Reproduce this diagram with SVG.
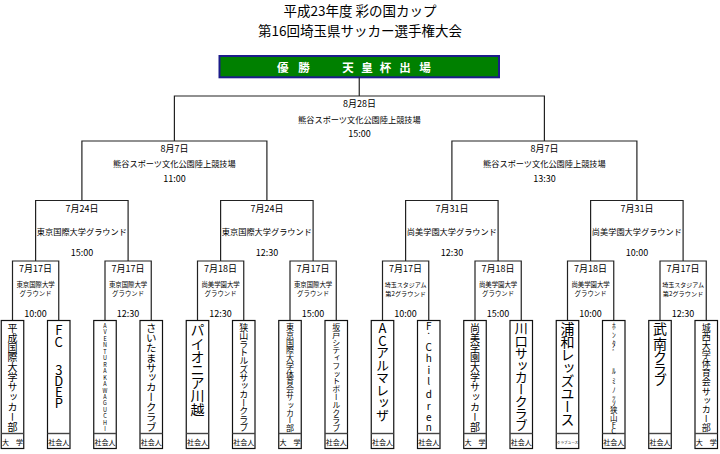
<svg xmlns="http://www.w3.org/2000/svg" width="720" height="454" viewBox="0 0 720 454">
<style>
.ln{fill:none;stroke:#222;stroke-width:1.2}
.tb{fill:#fff;stroke:#111;stroke-width:1.2}
.sep{stroke:#444;stroke-width:1.4}
.t{font-family:"Noto Sans CJK JP","Noto Sans",sans-serif;fill:#000;text-anchor:middle;dominant-baseline:central}
.v{font-family:"Noto Sans CJK JP","Noto Sans",sans-serif;fill:#000;writing-mode:vertical-rl;text-orientation:upright}
.d{font-size:9px}
.p{font-size:8.2px}
.s{font-size:6.4px}
.f{font-size:7px}
</style>
<rect width="720" height="454" fill="#fff"/>
<g id="title">
<text class="t" x="360" y="10.2" font-size="13.5">平成23年度 彩の国カップ</text>
<text class="t" x="360" y="29.8" font-size="13.5">第16回埼玉県サッカー選手権大会</text>
</g>
<g id="winner">
<rect x="219.5" y="56" width="279.5" height="21.3" fill="#008000" stroke="#1c1c8a" stroke-width="2"/>
<text class="t" y="66.7" font-size="11.5" font-weight="bold" style="fill:#fff" x="282.7 293 304 318 333 348 357.5 367 376 385.5 395 405 415 425">優 勝　　天 皇 杯 出 場</text>
</g>
<g id="connectors">
<path class="ln" d="M359.25 77.3V96"/>
<path class="ln" d="M174.4 141V96H544.4V141"/>
<path class="ln" d="M81.9 200.5V141H266.9V200.5"/>
<path class="ln" d="M451.9 200.5V141H636.9V200.5"/>
<path class="ln" d="M35.6 261V200.5H128.1V261"/>
<path class="ln" d="M220.6 261V200.5H313.1V261"/>
<path class="ln" d="M405.6 261V200.5H498.1V261"/>
<path class="ln" d="M590.6 261V200.5H683.1V261"/>
<path class="ln" d="M12.5 320.5V261H58.75V320.5"/>
<path class="ln" d="M105 320.5V261H151.25V320.5"/>
<path class="ln" d="M197.5 320.5V261H243.75V320.5"/>
<path class="ln" d="M290 320.5V261H336.25V320.5"/>
<path class="ln" d="M382.5 320.5V261H428.75V320.5"/>
<path class="ln" d="M475 320.5V261H521.25V320.5"/>
<path class="ln" d="M567.5 320.5V261H613.75V320.5"/>
<path class="ln" d="M660 320.5V261H706.25V320.5"/>
</g>
<g id="final">
<text class="t d" x="359.4" y="103.3">8月28日</text>
<text class="t p" x="359.4" y="118.5">熊谷スポーツ文化公園陸上競技場</text>
<text class="t d" x="359.4" y="133.5">15:00</text>
</g>
<g id="semi1">
<text class="t d" x="174.4" y="148.3">8月7日</text>
<text class="t p" x="174.4" y="163.3">熊谷スポーツ文化公園陸上競技場</text>
<text class="t d" x="174.4" y="178.3">11:00</text>
</g>
<g id="semi2">
<text class="t d" x="544.4" y="148.3">8月7日</text>
<text class="t p" x="544.4" y="163.3">熊谷スポーツ文化公園陸上競技場</text>
<text class="t d" x="544.4" y="178.3">13:30</text>
</g>
<g id="qf1">
<text class="t d" x="81.9" y="208">7月24日</text>
<text class="t p" x="81.9" y="230.5">東京国際大学グラウンド</text>
<text class="t d" x="81.9" y="252.3">15:00</text>
</g>
<g id="qf2">
<text class="t d" x="266.9" y="208">7月24日</text>
<text class="t p" x="266.9" y="230.5">東京国際大学グラウンド</text>
<text class="t d" x="266.9" y="252.3">12:30</text>
</g>
<g id="qf3">
<text class="t d" x="451.9" y="208">7月31日</text>
<text class="t p" x="451.9" y="230.5">尚美学園大学グラウンド</text>
<text class="t d" x="451.9" y="252.3">12:30</text>
</g>
<g id="qf4">
<text class="t d" x="636.9" y="208">7月31日</text>
<text class="t p" x="636.9" y="230.5">尚美学園大学グラウンド</text>
<text class="t d" x="636.9" y="252.3">10:00</text>
</g>
<g id="r1">
<text class="t d" x="35.6" y="268">7月17日</text>
<text class="t s" x="35.6" y="284.5">東京国際大学</text>
<text class="t s" x="35.6" y="293.5">グラウンド</text>
<text class="t d" x="35.6" y="313">10:00</text>
</g>
<g id="r2">
<text class="t d" x="128.1" y="268">7月17日</text>
<text class="t s" x="128.1" y="284.5">東京国際大学</text>
<text class="t s" x="128.1" y="293.5">グラウンド</text>
<text class="t d" x="128.1" y="313">12:30</text>
</g>
<g id="r3">
<text class="t d" x="220.6" y="268">7月18日</text>
<text class="t s" x="220.6" y="284.5">尚美学園大学</text>
<text class="t s" x="220.6" y="293.5">グラウンド</text>
<text class="t d" x="220.6" y="313">12:30</text>
</g>
<g id="r4">
<text class="t d" x="313.1" y="268">7月17日</text>
<text class="t s" x="313.1" y="284.5">東京国際大学</text>
<text class="t s" x="313.1" y="293.5">グラウンド</text>
<text class="t d" x="313.1" y="313">15:00</text>
</g>
<g id="r5">
<text class="t d" x="405.6" y="268">7月17日</text>
<text class="t" x="405.6" y="284.5" font-size="6">埼玉スタジアム</text>
<text class="t" x="405.6" y="293.5" font-size="6.2">第2グラウンド</text>
<text class="t d" x="405.6" y="313">10:00</text>
</g>
<g id="r6">
<text class="t d" x="498.1" y="268">7月18日</text>
<text class="t s" x="498.1" y="284.5">尚美学園大学</text>
<text class="t s" x="498.1" y="293.5">グラウンド</text>
<text class="t d" x="498.1" y="313">15:00</text>
</g>
<g id="r7">
<text class="t d" x="590.6" y="268">7月18日</text>
<text class="t s" x="590.6" y="284.5">尚美学園大学</text>
<text class="t s" x="590.6" y="293.5">グラウンド</text>
<text class="t d" x="590.6" y="313">10:00</text>
</g>
<g id="r8">
<text class="t d" x="683.1" y="268">7月17日</text>
<text class="t" x="683.1" y="284.5" font-size="6">埼玉スタジアム</text>
<text class="t" x="683.1" y="293.5" font-size="6.2">第2グラウンド</text>
<text class="t d" x="683.1" y="313">12:30</text>
</g>
<g id="team1">
<rect class="tb" x="1.25" y="320.5" width="22.5" height="128"/><line class="sep" x1="1.25" y1="433.5" x2="23.75" y2="433.5"/>
<text class="v" x="12.5" y="323 332.9 342.8 352.7 362.6 372.5 382.4 392.3 402.2 412.1 422" font-size="10">平成国際大学サッカー部</text>
<text class="t f" x="12.5" y="442">大　学</text>
</g>
<g id="team2">
<rect class="tb" x="47.5" y="320.5" width="22.5" height="128"/><line class="sep" x1="47.5" y1="433.5" x2="70" y2="433.5"/>
<text class="v" x="58.75" y="323.5 335.5 349.5 363.5 375 386 397" font-size="13">FC 3DEP</text>
<text class="t f" x="58.75" y="442">社会人</text>
</g>
<g id="team3">
<rect class="tb" x="93.75" y="320.5" width="22.5" height="128"/><line class="sep" x1="93.75" y1="433.5" x2="116.25" y2="433.5"/>
<text class="v" x="105" y="323 329.5 335.9 342.4 348.9 355.3 361.8 368.3 374.8 381.2 387.7 394.2 400.6 407.1 413.6 420 426.5" font-size="5.5">AVENTURAKAWAGUCHI</text>
<text class="t f" x="105" y="442">社会人</text>
</g>
<g id="team4">
<rect class="tb" x="140" y="320.5" width="22.5" height="128"/><line class="sep" x1="140" y1="433.5" x2="162.5" y2="433.5"/>
<text class="v" x="151.25" y="323 332.85 342.7 352.55 362.4 372.25 382.1 391.95 401.8 411.65 421.5" font-size="10.5">さいたまサッカークラブ</text>
<text class="t f" x="151.25" y="442">社会人</text>
</g>
<g id="team5">
<rect class="tb" x="186.25" y="320.5" width="22.5" height="128"/><line class="sep" x1="186.25" y1="433.5" x2="208.75" y2="433.5"/>
<text class="v" x="197.5" y="323 336.2 349.4 362.6 375.8 389 402.2" font-size="14">パイオニア川越</text>
<text class="t f" x="197.5" y="442">社会人</text>
</g>
<g id="team6">
<rect class="tb" x="232.5" y="320.5" width="22.5" height="128"/><line class="sep" x1="232.5" y1="433.5" x2="255" y2="433.5"/>
<text class="v" x="243.75" y="323 331.3 339.7 348 356.3 364.7 373 381.3 389.7 398 406.3 414.7 423" font-size="9">狭山ラトルズサッカークラブ</text>
<text class="t f" x="243.75" y="442">社会人</text>
</g>
<g id="team7">
<rect class="tb" x="278.75" y="320.5" width="22.5" height="128"/><line class="sep" x1="278.75" y1="433.5" x2="301.25" y2="433.5"/>
<text class="v" x="290" y="323 330.8 338.5 346.3 354.1 361.8 369.6 377.4 385.2 392.9 400.7 408.5 416.2 424" font-size="8">東京国際大学体育会サッカー部</text>
<text class="t f" x="290" y="442">大　学</text>
</g>
<g id="team8">
<rect class="tb" x="325" y="320.5" width="22.5" height="128"/><line class="sep" x1="325" y1="433.5" x2="347.5" y2="433.5"/>
<text class="v" x="336.25" y="323 330.8 338.5 346.3 354.1 361.8 369.6 377.4 385.2 392.9 400.7 408.5 416.2 424" font-size="8">坂戸シティフットボールクラブ</text>
<text class="t f" x="336.25" y="442">社会人</text>
</g>
<g id="team9">
<rect class="tb" x="371.25" y="320.5" width="22.5" height="128"/><line class="sep" x1="371.25" y1="433.5" x2="393.75" y2="433.5"/>
<text class="v" x="382.5" y="322 334.5 346 358.5 371 383.5 396 408.5" font-size="13">ACアルマレッザ</text>
<text class="t f" x="382.5" y="442">社会人</text>
</g>
<g id="team10">
<rect class="tb" x="417.5" y="320.5" width="22.5" height="128"/><line class="sep" x1="417.5" y1="433.5" x2="440" y2="433.5"/>
<text class="v" x="428.75" y="321 325.5 342 353.5 365 376 389.5 401 412.5 422.5" font-size="10">F.Children</text>
<text class="t f" x="428.75" y="442">社会人</text>
</g>
<g id="team11">
<rect class="tb" x="463.75" y="320.5" width="22.5" height="128"/><line class="sep" x1="463.75" y1="433.5" x2="486.25" y2="433.5"/>
<text class="v" x="475" y="323 332.9 342.8 352.7 362.6 372.5 382.4 392.3 402.2 412.1 422" font-size="10">尚美学園大学サッカー部</text>
<text class="t f" x="475" y="442">大　学</text>
</g>
<g id="team12">
<rect class="tb" x="510" y="320.5" width="22.5" height="128"/><line class="sep" x1="510" y1="433.5" x2="532.5" y2="433.5"/>
<text class="v" x="521.25" y="322 334.1 346.2 358.3 370.4 382.5 394.6 406.7 418.8" font-size="13">川口サッカークラブ</text>
<text class="t f" x="521.25" y="442">社会人</text>
</g>
<g id="team13">
<rect class="tb" x="556.25" y="320.5" width="22.5" height="128"/><line class="sep" x1="556.25" y1="433.5" x2="578.75" y2="433.5"/>
<text class="v" x="567.5" y="322 335 348 361 374 387 400 413" font-size="14">浦和レッズユース</text>
<text class="t" x="567.5" y="442" font-size="3.6">クラブユース</text>
</g>
<g id="team14">
<rect class="tb" x="602.5" y="320.5" width="22.5" height="128"/><line class="sep" x1="602.5" y1="433.5" x2="625" y2="433.5"/>
<text class="v" x="613.75" y="322.25 331.75 340.25 349.25 358.25 367.25 377.25 386.25 393.25 399.75 406.5 414 421.25 427" font-size="7.5">ﾎﾝﾀﾞ ﾙﾐﾉｯｿ狭山FC</text>
<text class="t f" x="613.75" y="442">社会人</text>
</g>
<g id="team15">
<rect class="tb" x="648.75" y="320.5" width="22.5" height="128"/><line class="sep" x1="648.75" y1="433.5" x2="671.25" y2="433.5"/>
<text class="v" x="660" y="322 336.5 349.5 361.5 373" font-size="14">武南クラブ</text>
<text class="t f" x="660" y="442">社会人</text>
</g>
<g id="team16">
<rect class="tb" x="695" y="320.5" width="22.5" height="128"/><line class="sep" x1="695" y1="433.5" x2="717.5" y2="433.5"/>
<text class="v" x="706.25" y="323 332.1 341.2 350.3 359.4 368.5 377.5 386.6 395.7 404.8 413.9 423" font-size="9">城西大学体育会サッカー部</text>
<text class="t f" x="706.25" y="442">大　学</text>
</g>
</svg>
